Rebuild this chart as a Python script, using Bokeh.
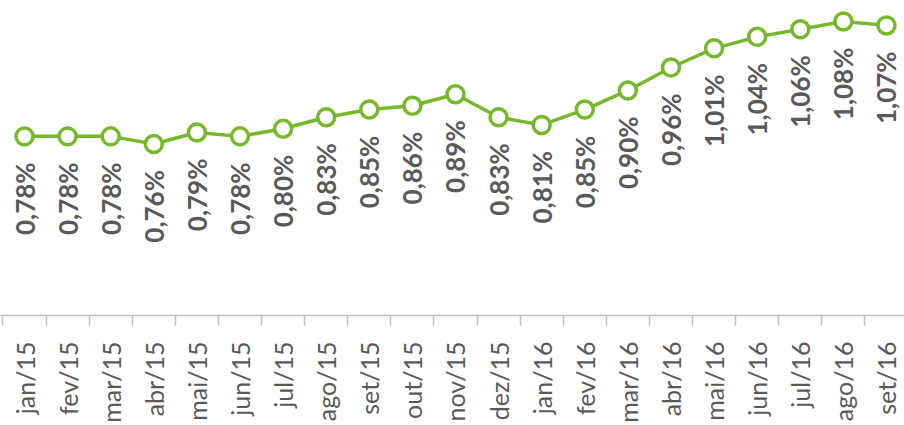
import math
from bokeh.plotting import figure
from bokeh.models import ColumnDataSource, Range1d, FixedTicker
from bokeh.core.properties import value
from bokeh.embed import file_html
from bokeh.resources import INLINE

months = ["jan/15", "fev/15", "mar/15", "abr/15", "mai/15", "jun/15", "jul/15",
          "ago/15", "set/15", "out/15", "nov/15", "dez/15", "jan/16", "fev/16",
          "mar/16", "abr/16", "mai/16", "jun/16", "jul/16", "ago/16", "set/16"]
rates = [0.78, 0.78, 0.78, 0.76, 0.79, 0.78, 0.80, 0.83, 0.85, 0.86, 0.89,
         0.83, 0.81, 0.85, 0.90, 0.96, 1.01, 1.04, 1.06, 1.08, 1.07]
labels = [("%.2f" % v).replace(".", ",") + "%" for v in rates]
idx = list(range(len(months)))

src = ColumnDataSource(dict(x=idx, y=rates, lab=labels))

GREEN = "#76b82a"
GRAY = "#595959"

p = figure(width=904, height=425, output_backend="svg", toolbar_location=None,
           x_range=Range1d(-0.557, 20.418), y_range=Range1d(0.312, 1.135),
           min_border_left=0, min_border_right=0, min_border_top=0,
           min_border_bottom=109)
p.outline_line_color = None
p.grid.visible = False
p.yaxis.visible = False
p.background_fill_color = "white"
p.border_fill_color = "white"

ax = p.xaxis[0]
ax.ticker = FixedTicker(ticks=idx, minor_ticks=[i - 0.5 for i in range(len(months) + 1)])
ax.major_label_overrides = {i: m for i, m in enumerate(months)}
ax.major_label_orientation = math.pi / 2
ax.major_label_text_font = "Lato"
ax.major_label_text_font_size = "25px"
ax.major_label_text_color = GRAY
ax.major_label_standoff = 16
ax.major_tick_out = 0
ax.major_tick_in = 0
ax.minor_tick_out = 10
ax.minor_tick_in = 0
ax.minor_tick_line_color = "#bfbfbf"
ax.minor_tick_line_width = 1.5
ax.axis_line_color = "#bfbfbf"
ax.axis_line_width = 1.5

p.line("x", "y", source=src, line_color=GREEN, line_width=3.5)
p.scatter("x", "y", source=src, size=17, fill_color="white",
          line_color=GREEN, line_width=3.5)

p.text("x", "y", text="lab", source=src, angle=math.pi / 2,
       text_align="right", text_baseline="middle", y_offset=26,
       text_font=value("Lato"), text_font_style="bold",
       text_font_size="26px", text_color=GRAY)

open("out.html", "w").write(file_html(p, INLINE))
